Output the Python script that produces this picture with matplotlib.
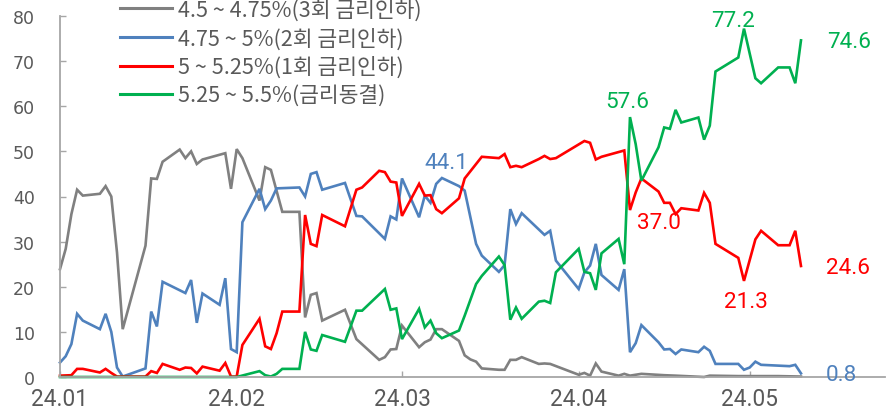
import matplotlib
matplotlib.use("Agg")
import matplotlib.pyplot as plt
import matplotlib.dates as mdates
import pandas as pd

YEAR = "2024-"

# 4.5 ~ 4.75% (3 cuts)
gray_dates = ["01-01","01-02","01-03","01-04","01-05","01-08","01-09","01-10","01-11","01-12",
              "01-16","01-17","01-18","01-19","01-22","01-23","01-24","01-25","01-26","01-30",
              "01-31","02-01","02-02","02-05","02-06","02-07","02-09","02-12","02-13","02-14",
              "02-15","02-16","02-20","02-22","02-26","02-27","02-28","02-29","03-01","03-04",
              "03-05","03-06","03-07","03-08","03-11","03-12","03-13","03-14","03-15","03-18",
              "03-19","03-20","03-21","03-22","03-25","03-26","03-27","04-01","04-02","04-03",
              "04-04","04-05","04-08","04-09","04-10","04-12","04-16","04-18","04-23","04-24",
              "04-29","05-06","05-10"]
gray_vals = [23.9,28.4,36.1,41.5,40.2,40.6,42.3,40.0,27.6,10.6,
             29.1,44.0,43.9,47.7,50.4,48.5,50.0,47.2,48.2,49.6,
             41.7,50.5,48.5,39.1,46.5,45.9,36.6,36.6,13.2,18.2,
             18.6,12.5,14.9,8.4,3.8,4.4,6.1,6.2,11.4,6.6,
             7.7,8.3,10.6,10.6,8.0,4.8,3.9,3.4,1.9,1.6,
             1.6,3.8,3.8,4.4,2.9,3.0,2.9,0.5,0.9,0.3,
             3.0,1.2,0.3,0.7,0.3,0.7,0.4,0.3,0.0,0.3,
             0.2,0.2,0.1]

# 4.75 ~ 5% (2 cuts)
blue_dates = ["01-01","01-02","01-03","01-04","01-05","01-08","01-09","01-10","01-11","01-12",
              "01-16","01-17","01-18","01-19","01-23","01-24","01-25","01-26","01-29","01-30",
              "01-31","02-01","02-02","02-05","02-06","02-07","02-08","02-12","02-13","02-14",
              "02-15","02-16","02-20","02-22","02-23","02-27","02-28","02-29","03-01","03-04",
              "03-05","03-06","03-07","03-08","03-11","03-12","03-14","03-15","03-18","03-19",
              "03-20","03-21","03-22","03-26","03-27","03-28","04-01","04-02","04-03","04-04",
              "04-05","04-08","04-09","04-10","04-11","04-12","04-15","04-16","04-17","04-18",
              "04-19","04-22","04-23","04-24","04-25","04-29","04-30","05-01","05-02","05-03",
              "05-08","05-09","05-10"]
blue_vals = [3.2,4.6,7.3,14.0,12.5,10.6,14.0,10.0,2.1,0.1,
             1.9,14.5,11.2,21.1,18.6,21.5,12.0,18.5,16.0,21.9,
             6.2,5.5,34.3,41.7,37.2,39.1,41.8,42.0,40.0,45.0,
             45.4,41.5,43.0,35.7,35.6,30.6,35.6,34.9,44.0,35.4,
             40.2,38.6,42.8,44.1,42.3,41.3,29.5,26.9,23.3,24.8,
             37.2,33.9,36.3,31.5,32.4,25.8,19.5,23.2,24.7,29.5,
             22.6,19.3,23.9,5.5,7.5,11.5,7.7,6.1,6.2,5.1,
             6.1,5.5,6.7,5.8,2.9,2.9,1.6,2.1,3.4,2.7,
             2.4,2.7,0.8]

# 5 ~ 5.25% (1 cut)
red_dates = ["01-01","01-03","01-04","01-05","01-08","01-09","01-10","01-11","01-16","01-17",
             "01-18","01-19","01-22","01-23","01-24","01-25","01-26","01-29","01-30","01-31",
             "02-01","02-02","02-05","02-06","02-07","02-08","02-09","02-12","02-13","02-14",
             "02-15","02-16","02-20","02-22","02-23","02-26","02-27","02-28","02-29","03-01",
             "03-04","03-05","03-06","03-07","03-08","03-11","03-12","03-15","03-18","03-19",
             "03-20","03-21","03-22","03-25","03-26","03-27","03-28","04-02","04-03","04-04",
             "04-05","04-09","04-10","04-11","04-12","04-15","04-16","04-17","04-18","04-19",
             "04-22","04-23","04-24","04-25","04-29","04-30","05-02","05-03","05-06","05-08",
             "05-09","05-10"]
red_vals = [0.3,0.4,1.8,1.8,1.0,1.8,0.9,0.1,0.1,1.3,
            0.9,2.9,1.6,2.1,2.0,0.8,2.3,1.4,3.1,0.1,
            0.1,7.1,12.9,6.8,6.2,9.7,14.5,14.5,35.9,29.5,
            29.0,35.9,33.4,41.5,42.0,45.7,45.4,43.3,43.1,35.7,
            42.8,40.2,40.3,37.2,36.3,39.6,44.0,48.8,48.5,49.4,
            46.5,46.8,46.5,48.3,49.0,48.3,48.5,52.3,51.9,48.2,
            48.8,50.2,37.0,40.9,44.0,41.1,38.6,38.6,36.1,37.4,
            36.9,40.8,38.6,29.5,26.4,21.3,30.5,32.4,29.2,29.2,
            32.4,24.6]

# 5.25 ~ 5.5% (hold)
green_dates = ["01-01","02-01","02-05","02-06","02-07","02-08","02-09","02-12","02-13","02-14",
               "02-15","02-16","02-20","02-22","02-23","02-27","02-28","02-29","03-01","03-04",
               "03-05","03-06","03-07","03-08","03-11","03-12","03-14","03-15","03-18","03-19",
               "03-20","03-21","03-22","03-25","03-26","03-27","03-28","04-01","04-02","04-03",
               "04-04","04-05","04-08","04-09","04-10","04-11","04-12","04-15","04-16","04-17",
               "04-18","04-19","04-22","04-23","04-24","04-25","04-29","04-30","05-02","05-03",
               "05-06","05-08","05-09","05-10"]
green_vals = [0.0,0.0,1.3,0.4,0.1,0.7,1.8,1.8,10.0,6.1,
              5.8,9.3,7.8,14.7,14.7,19.5,14.9,15.2,8.4,15.1,
              11.0,12.5,9.7,8.6,10.3,13.6,20.6,22.4,26.7,24.8,
              12.7,15.4,12.9,16.7,16.9,16.4,23.2,28.4,23.3,23.0,
              19.3,27.4,30.6,25.0,57.6,51.6,43.5,50.9,55.3,55.0,
              59.2,56.4,57.5,52.6,55.7,67.7,70.8,77.2,66.2,65.1,
              68.6,68.6,65.1,74.6]

labels = ["4.5 ~ 4.75%(3회 금리인하)", "4.75 ~ 5%(2회 금리인하)",
          "5 ~ 5.25%(1회 금리인하)", "5.25 ~ 5.5%(금리동결)"]
colors = ["#808080", "#4F81BD", "#FF0000", "#00B050"]

# annotations: (series index, date, value, dx, dy in points)
notes = [(1, "03-08", 44.1, 3, 11),
         (3, "04-10", 57.6, -2, 11),
         (3, "04-30", 77.2, -8, 5.5),
         (3, "05-10", 74.6, 35, -1),
         (2, "04-10", 37.0, 21, -9),
         (2, "04-30", 21.3, 1.5, -15),
         (2, "05-10", 24.6, 34, -1),
         (1, "05-10", 0.8, 29, -1)]


def to_dt(lst):
    return pd.to_datetime([YEAR + s for s in lst])


series = [(gray_dates, gray_vals), (blue_dates, blue_vals),
          (red_dates, red_vals), (green_dates, green_vals)]

fig = plt.figure(figsize=(8.95, 4.14), dpi=100)
ax = fig.add_axes([60 / 895, 36 / 414, 825 / 895, 361 / 414])

for (d, v), lab, c in zip(series, labels, colors):
    ax.plot(to_dt(d), v, color=c, lw=1.9, label=lab, clip_on=False,
            solid_joinstyle="miter")

for idx, d, v, dx, dy in notes:
    ax.annotate(f"{v:.1f}", xy=(pd.Timestamp(YEAR + d), v), xytext=(dx, dy),
                textcoords="offset points", ha="center", va="center",
                fontsize=16.2, family="Roboto", color=colors[idx])

start = pd.Timestamp("2024-01-01")
ax.set_xlim(start, start + pd.Timedelta(days=144.74))
ax.set_ylim(0, 80)
ax.set_yticks(range(0, 81, 10))
ax.xaxis.set_major_locator(mdates.MonthLocator(bymonth=[1, 2, 3, 4, 5]))
ax.xaxis.set_major_formatter(mdates.DateFormatter("%y.%m"))

for s in ["top", "right"]:
    ax.spines[s].set_visible(False)
for s in ["left", "bottom"]:
    ax.spines[s].set_color("#A6A6A6")
    ax.spines[s].set_linewidth(1.3)

ax.tick_params(axis="both", direction="in", length=4, width=1, color="#A6A6A6",
               labelcolor="#595959")
ax.tick_params(axis="y", pad=18)
ax.tick_params(axis="x", pad=7)
for t in ax.get_xticklabels():
    t.set_fontfamily("Roboto")
    t.set_fontsize(16.3)
for t in ax.get_yticklabels():
    t.set_fontfamily("DejaVu Sans")
    t.set_fontsize(12.5)

leg = ax.legend(loc="upper left", bbox_to_anchor=(120 / 895, 1.001),
                bbox_transform=fig.transFigure, frameon=False,
                prop={"family": ["Noto Sans CJK KR", "DejaVu Sans"], "size": 15.5},
                handlelength=2.4, handletextpad=0.3, labelspacing=0.3,
                borderpad=0, borderaxespad=0, labelcolor="#595959")
for line in leg.get_lines():
    line.set_linewidth(2.2)

fig.savefig("out.png", dpi=100)
